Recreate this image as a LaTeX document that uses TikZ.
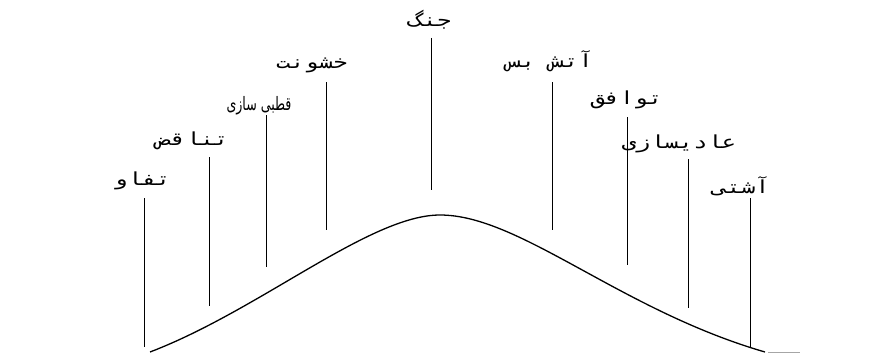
\documentclass[tikz,border=0pt]{standalone}
\usepackage{fontspec}
\TeXXeTstate=1
\newfontfamily\fafont[Script=Arabic,FakeStretch=1.32]{DejaVu Sans Mono}
\newfontfamily\fapfont[Script=Arabic,FakeStretch=0.68]{DejaVu Sans}
\begin{document}
\begin{tikzpicture}[x=1pt,y=-1pt,
  lbl/.style={inner sep=0pt, font=\fafont\fontsize{18}{20}\selectfont},
  plbl/.style={inner sep=0pt, font=\fapfont\fontsize{18.5}{20}\selectfont},
  tick/.style={draw=black, line width=1pt},
  curve/.style={draw=black, line width=1.3pt}]
\useasboundingbox (0,0) rectangle (869,353);
% labels
\node[lbl] (l1) at (142,181) {\beginR تفاو\endR};
\node[lbl] (l2) at (193,141) {\beginR تناقض\endR};
\node[plbl] (l3) at (259,106) {\beginR قطبی سازی\endR};
\node[lbl] (l4) at (312,65) {\beginR خشونت\endR};
\node[lbl] (l5) at (430,20) {\beginR جنگ\endR};
\node[lbl] (l6) at (550,61) {\beginR آتش بس\endR};
\node[lbl] (l7) at (627,100) {\beginR توافق\endR};
\node[lbl] (l8) at (679,144) {\beginR عادیسازی\endR};
\node[lbl] (l9) at (741,186) {\beginR آشتی\endR};
% ticks
\draw[tick] (144,198) -- (144,347);
\draw[tick] (209,157) -- (209,306);
\draw[tick] (266,115) -- (266,267);
\draw[tick] (326,82) -- (326,230);
\draw[tick] (431,38) -- (431,190);
\draw[tick] (552,82) -- (552,230);
\draw[tick] (627,117) -- (627,265);
\draw[tick] (688,159) -- (688,308);
\draw[tick] (750,198) -- (750,347);
% curve
\draw[curve] (150,352) .. controls (260,310) and (370,215) .. (440,215)
  .. controls (520,215) and (620,310) .. (765,352);
\draw[draw=black!35, line width=1pt] (768,352) -- (800,352);
\end{tikzpicture}
\end{document}
